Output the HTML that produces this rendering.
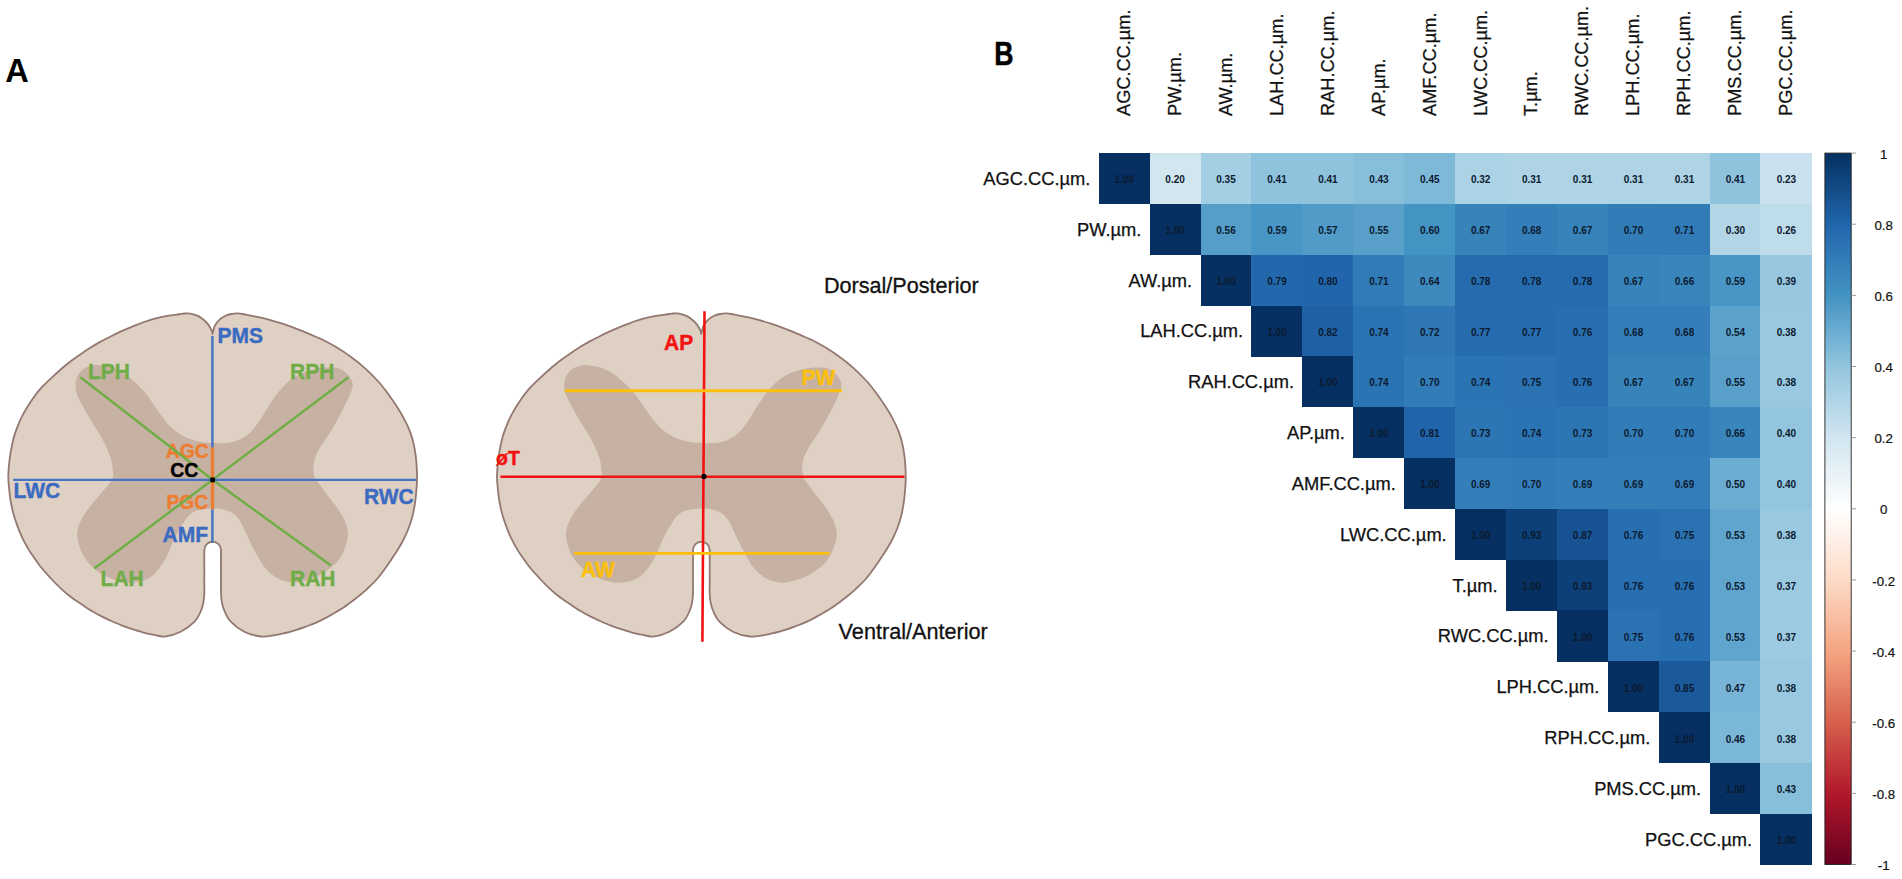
<!DOCTYPE html>
<html><head><meta charset="utf-8"><title>Figure</title>
<style>
html,body{margin:0;padding:0;background:#fff;}
body{width:1902px;height:879px;overflow:hidden;}
svg{display:block;font-family:"Liberation Sans",sans-serif;}
.lb{font-weight:bold;font-size:21px;}
.num text{font-weight:bold;font-size:10px;text-anchor:middle;fill:#0c1a30;}
.rl text{font-size:18.3px;text-anchor:end;fill:#111;stroke:#111;stroke-width:0.25px;}
.cl text{font-size:18.2px;fill:#111;stroke:#111;stroke-width:0.25px;}
.tl text{font-size:13.3px;text-anchor:middle;fill:#111;stroke:#111;stroke-width:0.2px;}
</style></head><body>
<svg width="1902" height="879" viewBox="0 0 1902 879">
<defs>
<g id="cord">
<path d="M212.5 333.9C212.7 333.2 213.2 330.9 213.6 329.5C214.0 328.1 214.0 327.1 215.0 325.5C216.0 323.9 217.8 321.3 219.6 319.6C221.4 317.9 223.8 316.5 225.9 315.5C228.0 314.5 230.3 314.2 232.3 313.8C234.3 313.4 235.5 313.3 237.8 313.4C240.1 313.5 243.0 314.1 246.0 314.6C249.0 315.1 252.2 315.8 256.0 316.6C259.8 317.4 264.4 318.4 268.8 319.6C273.2 320.8 277.8 322.2 282.4 323.7C286.9 325.2 291.6 326.9 296.1 328.7C300.7 330.4 305.1 332.3 309.7 334.2C314.3 336.1 319.1 337.9 323.7 340.2C328.3 342.5 332.8 345.0 337.3 347.8C341.9 350.6 346.4 353.6 351.0 356.9C355.6 360.2 360.1 363.7 364.6 367.8C369.2 371.9 374.4 377.2 378.3 381.5C382.2 385.8 384.8 389.4 388.0 393.7C391.2 398.0 394.6 403.0 397.3 407.3C400.1 411.6 402.4 415.5 404.5 419.6C406.6 423.7 408.6 427.8 410.1 431.9C411.6 436.0 412.8 440.0 413.7 444.1C414.6 448.2 415.3 452.3 415.8 456.4C416.3 460.5 416.6 464.8 416.8 468.7C417.0 472.6 417.1 476.7 417.0 480.0C416.9 483.3 416.8 485.0 416.5 488.7C416.2 492.4 415.8 497.8 415.1 502.3C414.4 506.9 413.6 511.6 412.5 516.0C411.4 520.4 410.1 524.3 408.5 528.5C406.9 532.7 404.9 537.0 402.8 541.0C400.7 545.0 398.5 548.5 396.0 552.4C393.5 556.3 391.1 560.1 388.0 564.5C384.9 568.9 381.0 574.5 377.5 578.5C374.0 582.5 370.6 585.6 367.2 588.8C363.8 592.0 360.4 594.8 357.0 597.5C353.6 600.2 350.2 602.8 346.8 605.2C343.4 607.6 339.9 609.7 336.5 611.8C333.1 613.9 329.7 615.8 326.3 617.6C322.9 619.4 319.5 621.1 316.1 622.6C312.7 624.1 309.2 625.3 305.8 626.6C302.4 627.9 299.0 629.1 295.6 630.2C292.2 631.3 288.8 632.2 285.4 633.0C282.0 633.8 279.2 634.5 275.1 635.1C271.1 635.7 266.2 637.1 261.1 636.5C256.0 635.9 249.3 634.2 244.2 631.7C239.1 629.2 233.8 624.8 230.5 621.4C227.2 618.0 226.0 614.3 224.6 611.2C223.2 608.1 222.6 605.9 222.0 603.0C221.4 600.1 221.2 597.3 221.0 593.8C220.8 590.3 221.0 586.0 221.0 582.0C221.0 578.0 221.0 572.0 221.0 570.0L221 550.1A8.35 8.35 0 0 0 204.3 550.1L204.3 570C204.3 572.0 204.3 578.0 204.3 582.0C204.3 586.0 204.5 590.3 204.3 593.8C204.1 597.3 203.9 600.1 203.3 603.0C202.7 605.9 202.2 608.1 200.8 611.2C199.4 614.3 198.2 618.0 194.8 621.4C191.5 624.8 185.8 629.2 180.7 631.7C175.6 634.2 169.2 636.1 164.5 636.6C159.8 637.1 156.5 635.3 152.8 634.6C149.2 633.9 146.0 633.2 142.6 632.3C139.2 631.4 135.8 630.3 132.4 629.2C129.0 628.1 125.5 626.9 122.1 625.6C118.7 624.3 115.3 622.8 111.9 621.3C108.5 619.8 105.0 618.1 101.6 616.4C98.2 614.6 94.8 612.8 91.4 610.8C88.0 608.8 84.6 606.4 81.2 604.1C77.8 601.8 74.3 599.6 70.9 597.0C67.5 594.4 64.1 591.5 60.7 588.3C57.3 585.1 53.9 581.7 50.5 578.0C47.1 574.3 43.2 570.1 40.2 566.3C37.2 562.5 34.2 557.7 32.3 555.0C30.4 552.3 30.7 553.0 29.0 550.1C27.3 547.2 24.2 541.8 22.2 537.6C20.2 533.4 18.6 529.3 17.1 525.1C15.6 520.9 14.2 516.7 13.1 512.5C12.0 508.3 11.2 504.4 10.5 500.0C9.8 495.6 9.3 490.3 8.9 486.4C8.5 482.5 8.3 480.2 8.3 476.5C8.3 472.8 8.7 468.1 9.1 463.9C9.5 459.7 10.1 455.6 10.8 451.4C11.5 447.2 12.3 443.1 13.4 438.9C14.5 434.7 16.0 430.6 17.6 426.4C19.2 422.2 21.0 418.1 23.3 413.9C25.6 409.7 28.5 405.0 31.2 401.0C33.9 397.0 36.2 393.6 39.5 389.8C42.8 386.0 47.4 381.7 51.0 378.3C54.6 374.9 57.7 372.1 61.0 369.2C64.3 366.3 67.7 363.6 71.0 361.0C74.3 358.4 77.7 356.2 81.0 353.9C84.3 351.6 87.7 349.4 91.0 347.3C94.3 345.2 97.8 343.2 101.1 341.4C104.4 339.5 107.8 337.9 111.1 336.2C114.4 334.5 117.8 332.9 121.1 331.4C124.4 329.9 127.9 328.4 131.1 327.1C134.2 325.8 137.6 324.5 140.0 323.6C142.4 322.7 142.9 322.4 145.5 321.5C148.1 320.6 152.3 319.3 155.7 318.4C159.1 317.5 162.6 316.7 166.0 316.1C169.4 315.5 173.3 315.1 176.2 314.7C179.0 314.3 181.2 313.9 183.1 313.7C185.0 313.5 186.1 313.2 187.8 313.3C189.5 313.4 191.5 313.8 193.3 314.3C195.1 314.8 197.1 315.5 198.8 316.4C200.5 317.3 202.1 318.6 203.6 319.8C205.1 321.1 206.6 322.5 207.7 323.9C208.8 325.3 209.6 326.5 210.4 328.0C211.2 329.5 212.1 331.8 212.4 332.8C212.8 333.8 212.5 333.7 212.5 333.9Z" fill="#dfd0c4" stroke="#927870" stroke-width="1.8" stroke-linejoin="round"/>
<path d="M212.6 443.0C218.0 443.2 224.9 443.9 230.7 442.6C236.4 441.3 242.3 438.8 247.1 435.2C251.9 431.6 255.6 426.0 259.4 420.9C263.1 415.8 265.9 410.0 269.6 404.5C273.4 399.0 277.5 392.8 281.9 388.0C286.3 383.2 290.5 379.2 296.0 376.0C301.5 372.8 308.8 370.4 315.0 369.0C321.2 367.6 328.3 367.3 333.0 367.6C337.7 367.9 340.5 368.9 343.4 370.7C346.3 372.5 349.0 375.6 350.5 378.5C352.0 381.4 353.5 383.0 352.3 388.0C351.1 393.0 346.9 401.4 343.4 408.6C339.8 415.8 335.1 424.3 331.0 431.1C326.9 437.9 321.7 444.0 318.8 449.5C315.9 455.0 314.4 459.1 313.7 463.9C313.0 468.6 314.1 475.1 314.7 478.0C315.2 480.9 314.9 478.2 317.0 481.0C319.1 483.8 323.3 489.6 327.0 494.6C330.7 499.6 336.1 505.9 339.3 511.0C342.6 516.1 345.1 520.6 346.5 525.3C347.9 530.0 348.4 533.9 347.5 539.0C346.6 544.1 344.0 551.2 341.3 556.0C338.6 560.8 335.5 563.9 331.1 567.5C326.7 571.1 320.2 575.1 315.0 577.5C309.8 579.9 304.1 581.2 300.0 582.0C295.9 582.8 293.8 582.8 290.1 582.2C286.4 581.6 281.9 580.9 277.8 578.6C273.7 576.3 269.2 572.8 265.5 568.3C261.8 563.8 258.4 557.4 255.3 551.9C252.2 546.4 249.8 541.0 247.1 535.5C244.4 530.0 242.0 523.3 238.9 519.2C235.8 515.1 233.1 512.8 228.7 511.0C224.3 509.2 218.3 508.4 212.6 508.5C206.9 508.6 199.3 509.4 194.6 511.5C189.9 513.6 187.7 516.5 184.3 521.2C180.9 525.9 177.2 533.5 174.1 539.6C171.0 545.7 169.0 552.5 165.9 558.0C162.8 563.5 159.4 568.6 155.7 572.4C151.9 576.2 148.5 578.9 143.4 580.6C138.3 582.3 131.8 583.5 125.0 582.5C118.2 581.5 108.6 577.9 102.4 574.5C96.2 571.1 91.8 566.7 88.0 562.2C84.2 557.8 81.7 552.9 79.9 547.8C78.1 542.7 76.7 537.0 77.4 531.5C78.1 526.0 80.5 520.8 84.0 515.0C87.5 509.2 93.7 502.4 98.3 496.6C102.9 490.8 109.2 484.4 111.6 480.0C114.0 475.6 112.9 473.7 112.7 470.0C112.5 466.3 112.3 462.8 110.6 457.7C108.9 452.6 105.8 445.8 102.4 439.3C99.0 432.8 94.1 426.0 90.0 418.8C85.9 411.6 80.2 401.8 77.8 396.3C75.4 390.8 75.6 389.3 75.5 386.0C75.4 382.7 76.1 379.3 77.4 376.5C78.7 373.7 81.0 370.9 83.3 369.2C85.6 367.4 88.5 366.7 91.0 366.0C93.5 365.3 95.0 364.9 98.5 365.2C102.0 365.5 107.7 366.2 112.0 367.6C116.3 369.0 120.5 371.3 124.3 373.7C128.1 376.1 131.1 378.8 134.5 381.9C137.9 385.0 141.4 388.1 144.8 392.2C148.2 396.3 151.6 401.7 155.0 406.5C158.4 411.3 161.9 416.8 165.3 420.9C168.7 425.0 172.1 428.4 175.5 431.1C178.9 433.8 181.9 435.5 185.7 437.2C189.4 438.9 193.5 440.3 198.0 441.3C202.5 442.3 207.2 442.8 212.6 443.0Z" fill="#c6b1a3"/>
</g>
<linearGradient id="cb" x1="0" y1="0" x2="0" y2="1"><stop offset="0.0%" stop-color="#053061"/><stop offset="10.0%" stop-color="#2166AC"/><stop offset="20.0%" stop-color="#4393C3"/><stop offset="30.0%" stop-color="#92C5DE"/><stop offset="40.0%" stop-color="#D1E5F0"/><stop offset="50.0%" stop-color="#FFFFFF"/><stop offset="60.0%" stop-color="#FDDBC7"/><stop offset="70.0%" stop-color="#F4A582"/><stop offset="80.0%" stop-color="#D6604D"/><stop offset="90.0%" stop-color="#B2182B"/><stop offset="100.0%" stop-color="#67001F"/></linearGradient>
</defs>
<rect width="1902" height="879" fill="#fff"/>
<text x="5.3" y="81.6" font-weight="bold" font-size="32.6">A</text>
<text x="994.3" y="64.6" font-weight="bold" font-size="33.6" textLength="19.3" lengthAdjust="spacingAndGlyphs" stroke="#000" stroke-width="0.5">B</text>

<!-- panel A left cord -->
<use href="#cord"/>
<g class="lb">
<text transform="translate(165.8 458.3) scale(1 1.035)" fill="#ed7d31" stroke="#ed7d31" stroke-width="0.4" font-size="19.3">AGC</text>
<text transform="translate(166.4 509.1) scale(1 1.035)" fill="#ed7d31" stroke="#ed7d31" stroke-width="0.4" font-size="19.3">PGC</text>
</g>
<g stroke="#6fae45" stroke-width="2.4" stroke-linecap="butt">
<line x1="80.5" y1="377.2" x2="212.6" y2="479.8"/>
<line x1="348.5" y1="377.3" x2="212.6" y2="479.8"/>
<line x1="94.3" y1="568.5" x2="212.6" y2="479.8"/>
<line x1="331" y1="565.5" x2="212.6" y2="479.8"/>
</g>
<line x1="212.5" y1="447.3" x2="212.5" y2="509.3" stroke="#ed7d31" stroke-width="3.3"/>
<line x1="13.3" y1="479.9" x2="416.3" y2="479.9" stroke="#4472c4" stroke-width="2.4"/>
<line x1="212.4" y1="336" x2="212.4" y2="447.3" stroke="#4472c4" stroke-width="2.4"/>
<line x1="212.4" y1="509.3" x2="212.4" y2="542.6" stroke="#4472c4" stroke-width="2.4"/>
<circle cx="212.6" cy="479.8" r="2.6" fill="#000"/>
<g class="lb">
<text transform="translate(217.6 343.2) scale(1 1.035)" fill="#3b6ac1" stroke="#3b6ac1" stroke-width="0.4" font-size="21.0">PMS</text>
<text transform="translate(88.0 379.0) scale(1 1.035)" fill="#70ad47" stroke="#70ad47" stroke-width="0.4" font-size="21.0">LPH</text>
<text transform="translate(290.0 379.0) scale(1 1.035)" fill="#70ad47" stroke="#70ad47" stroke-width="0.4" font-size="21.0">RPH</text>
<text transform="translate(170.3 477.1) scale(1 1.030)" fill="#000" stroke="#000" stroke-width="0.4" font-size="19.5">CC</text>
<text transform="translate(13.6 497.8) scale(1 1.035)" fill="#3b6ac1" stroke="#3b6ac1" stroke-width="0.4" font-size="21.0">LWC</text>
<text transform="translate(364.0 504.1) scale(1 1.035)" fill="#3b6ac1" stroke="#3b6ac1" stroke-width="0.4" font-size="21.0">RWC</text>
<text transform="translate(162.5 542.2) scale(1 1.035)" fill="#3b6ac1" stroke="#3b6ac1" stroke-width="0.4" font-size="21.0">AMF</text>
<text transform="translate(100.6 586.3) scale(1 1.035)" fill="#70ad47" stroke="#70ad47" stroke-width="0.4" font-size="21.0">LAH</text>
<text transform="translate(290.0 586.3) scale(1 1.035)" fill="#70ad47" stroke="#70ad47" stroke-width="0.4" font-size="21.0">RAH</text>
</g>

<!-- panel A right cord -->
<use href="#cord" transform="translate(488.7 0)"/>
<line x1="704.5" y1="311.3" x2="702.4" y2="641.7" stroke="#f21212" stroke-width="2.6"/>
<line x1="500.5" y1="476.7" x2="904.5" y2="476.7" stroke="#f21212" stroke-width="2.6"/>
<line x1="564.8" y1="390.7" x2="842" y2="390.7" stroke="#fcc00c" stroke-width="2.9"/>
<line x1="574" y1="553.4" x2="829.8" y2="553.4" stroke="#fcc00c" stroke-width="2.9"/>
<circle cx="704" cy="476.4" r="2.6" fill="#000"/>
<g class="lb">
<text transform="translate(664.0 349.7) scale(1 1.035)" fill="#f21212" stroke="#f21212" stroke-width="0.4" font-size="21.0">AP</text>
<text transform="translate(801.6 384.6) scale(1 1.035)" fill="#fcc00c" stroke="#fcc00c" stroke-width="0.4" font-size="21.0">PW</text>
<text transform="translate(496.0 465.0) scale(1 1.035)" fill="#f21212" stroke="#f21212" stroke-width="0.4" font-size="19.5">øT</text>
<text transform="translate(581.0 576.7) scale(1 1.035)" fill="#fcc00c" stroke="#fcc00c" stroke-width="0.4" font-size="21.0">AW</text>
</g>
<text transform="translate(824 293.3) scale(1 1.03)" font-size="21.6" fill="#111" stroke="#111" stroke-width="0.3">Dorsal/Posterior</text>
<text transform="translate(838.6 638.5) scale(1 1.04)" font-size="21.65" fill="#111" stroke="#111" stroke-width="0.3">Ventral/Anterior</text>

<!-- panel B -->
<g shape-rendering="crispEdges"><rect x="1098.70" y="153.10" width="51.20" height="51.11" fill="#053061"/><rect x="1149.60" y="153.10" width="51.20" height="51.11" fill="#d2e6f0"/><rect x="1200.50" y="153.10" width="51.20" height="51.11" fill="#a3cee3"/><rect x="1251.40" y="153.10" width="51.20" height="51.11" fill="#8fc3dd"/><rect x="1302.30" y="153.10" width="51.20" height="51.11" fill="#8fc3dd"/><rect x="1353.20" y="153.10" width="51.20" height="51.11" fill="#87beda"/><rect x="1404.10" y="153.10" width="51.20" height="51.11" fill="#7fb9d8"/><rect x="1455.00" y="153.10" width="51.20" height="51.11" fill="#acd2e6"/><rect x="1505.90" y="153.10" width="51.20" height="51.11" fill="#afd4e6"/><rect x="1556.80" y="153.10" width="51.20" height="51.11" fill="#afd4e6"/><rect x="1607.70" y="153.10" width="51.20" height="51.11" fill="#afd4e6"/><rect x="1658.60" y="153.10" width="51.20" height="51.11" fill="#afd4e6"/><rect x="1709.50" y="153.10" width="51.20" height="51.11" fill="#8fc3dd"/><rect x="1760.40" y="153.10" width="51.20" height="51.11" fill="#c9e1ee"/><rect x="1149.60" y="203.91" width="51.20" height="51.11" fill="#053061"/><rect x="1200.50" y="203.91" width="51.20" height="51.11" fill="#549ec9"/><rect x="1251.40" y="203.91" width="51.20" height="51.11" fill="#4896c5"/><rect x="1302.30" y="203.91" width="51.20" height="51.11" fill="#509bc7"/><rect x="1353.20" y="203.91" width="51.20" height="51.11" fill="#58a0ca"/><rect x="1404.10" y="203.91" width="51.20" height="51.11" fill="#4494c3"/><rect x="1455.00" y="203.91" width="51.20" height="51.11" fill="#3784bb"/><rect x="1505.90" y="203.91" width="51.20" height="51.11" fill="#347fb9"/><rect x="1556.80" y="203.91" width="51.20" height="51.11" fill="#3784bb"/><rect x="1607.70" y="203.91" width="51.20" height="51.11" fill="#327db8"/><rect x="1658.60" y="203.91" width="51.20" height="51.11" fill="#317bb7"/><rect x="1709.50" y="203.91" width="51.20" height="51.11" fill="#b3d6e7"/><rect x="1760.40" y="203.91" width="51.20" height="51.11" fill="#bfdceb"/><rect x="1200.50" y="254.73" width="51.20" height="51.11" fill="#053061"/><rect x="1251.40" y="254.73" width="51.20" height="51.11" fill="#2368ad"/><rect x="1302.30" y="254.73" width="51.20" height="51.11" fill="#2166ac"/><rect x="1353.20" y="254.73" width="51.20" height="51.11" fill="#317bb7"/><rect x="1404.10" y="254.73" width="51.20" height="51.11" fill="#3d8abf"/><rect x="1455.00" y="254.73" width="51.20" height="51.11" fill="#256bae"/><rect x="1505.90" y="254.73" width="51.20" height="51.11" fill="#256bae"/><rect x="1556.80" y="254.73" width="51.20" height="51.11" fill="#256bae"/><rect x="1607.70" y="254.73" width="51.20" height="51.11" fill="#3784bb"/><rect x="1658.60" y="254.73" width="51.20" height="51.11" fill="#3986bc"/><rect x="1709.50" y="254.73" width="51.20" height="51.11" fill="#4896c5"/><rect x="1760.40" y="254.73" width="51.20" height="51.11" fill="#96c7df"/><rect x="1251.40" y="305.54" width="51.20" height="51.11" fill="#053061"/><rect x="1302.30" y="305.54" width="51.20" height="51.11" fill="#1e61a5"/><rect x="1353.20" y="305.54" width="51.20" height="51.11" fill="#2b74b3"/><rect x="1404.10" y="305.54" width="51.20" height="51.11" fill="#2f78b5"/><rect x="1455.00" y="305.54" width="51.20" height="51.11" fill="#266db0"/><rect x="1505.90" y="305.54" width="51.20" height="51.11" fill="#266db0"/><rect x="1556.80" y="305.54" width="51.20" height="51.11" fill="#286fb1"/><rect x="1607.70" y="305.54" width="51.20" height="51.11" fill="#347fb9"/><rect x="1658.60" y="305.54" width="51.20" height="51.11" fill="#347fb9"/><rect x="1709.50" y="305.54" width="51.20" height="51.11" fill="#5ca3cb"/><rect x="1760.40" y="305.54" width="51.20" height="51.11" fill="#99c9e0"/><rect x="1302.30" y="356.36" width="51.20" height="51.11" fill="#053061"/><rect x="1353.20" y="356.36" width="51.20" height="51.11" fill="#2b74b3"/><rect x="1404.10" y="356.36" width="51.20" height="51.11" fill="#327db8"/><rect x="1455.00" y="356.36" width="51.20" height="51.11" fill="#2b74b3"/><rect x="1505.90" y="356.36" width="51.20" height="51.11" fill="#2a72b2"/><rect x="1556.80" y="356.36" width="51.20" height="51.11" fill="#286fb1"/><rect x="1607.70" y="356.36" width="51.20" height="51.11" fill="#3784bb"/><rect x="1658.60" y="356.36" width="51.20" height="51.11" fill="#3784bb"/><rect x="1709.50" y="356.36" width="51.20" height="51.11" fill="#58a0ca"/><rect x="1760.40" y="356.36" width="51.20" height="51.11" fill="#99c9e0"/><rect x="1353.20" y="407.17" width="51.20" height="51.11" fill="#053061"/><rect x="1404.10" y="407.17" width="51.20" height="51.11" fill="#2064a9"/><rect x="1455.00" y="407.17" width="51.20" height="51.11" fill="#2d76b4"/><rect x="1505.90" y="407.17" width="51.20" height="51.11" fill="#2b74b3"/><rect x="1556.80" y="407.17" width="51.20" height="51.11" fill="#2d76b4"/><rect x="1607.70" y="407.17" width="51.20" height="51.11" fill="#327db8"/><rect x="1658.60" y="407.17" width="51.20" height="51.11" fill="#327db8"/><rect x="1709.50" y="407.17" width="51.20" height="51.11" fill="#3986bc"/><rect x="1760.40" y="407.17" width="51.20" height="51.11" fill="#93c5de"/><rect x="1404.10" y="457.99" width="51.20" height="51.11" fill="#053061"/><rect x="1455.00" y="457.99" width="51.20" height="51.11" fill="#347fb9"/><rect x="1505.90" y="457.99" width="51.20" height="51.11" fill="#327db8"/><rect x="1556.80" y="457.99" width="51.20" height="51.11" fill="#347fb9"/><rect x="1607.70" y="457.99" width="51.20" height="51.11" fill="#347fb9"/><rect x="1658.60" y="457.99" width="51.20" height="51.11" fill="#347fb9"/><rect x="1709.50" y="457.99" width="51.20" height="51.11" fill="#6badd1"/><rect x="1760.40" y="457.99" width="51.20" height="51.11" fill="#93c5de"/><rect x="1455.00" y="508.80" width="51.20" height="51.11" fill="#053061"/><rect x="1505.90" y="508.80" width="51.20" height="51.11" fill="#0d4078"/><rect x="1556.80" y="508.80" width="51.20" height="51.11" fill="#175392"/><rect x="1607.70" y="508.80" width="51.20" height="51.11" fill="#286fb1"/><rect x="1658.60" y="508.80" width="51.20" height="51.11" fill="#2a72b2"/><rect x="1709.50" y="508.80" width="51.20" height="51.11" fill="#60a5cd"/><rect x="1760.40" y="508.80" width="51.20" height="51.11" fill="#99c9e0"/><rect x="1505.90" y="559.61" width="51.20" height="51.11" fill="#053061"/><rect x="1556.80" y="559.61" width="51.20" height="51.11" fill="#0d4078"/><rect x="1607.70" y="559.61" width="51.20" height="51.11" fill="#286fb1"/><rect x="1658.60" y="559.61" width="51.20" height="51.11" fill="#286fb1"/><rect x="1709.50" y="559.61" width="51.20" height="51.11" fill="#60a5cd"/><rect x="1760.40" y="559.61" width="51.20" height="51.11" fill="#9ccae1"/><rect x="1556.80" y="610.43" width="51.20" height="51.11" fill="#053061"/><rect x="1607.70" y="610.43" width="51.20" height="51.11" fill="#2a72b2"/><rect x="1658.60" y="610.43" width="51.20" height="51.11" fill="#286fb1"/><rect x="1709.50" y="610.43" width="51.20" height="51.11" fill="#60a5cd"/><rect x="1760.40" y="610.43" width="51.20" height="51.11" fill="#9ccae1"/><rect x="1607.70" y="661.24" width="51.20" height="51.11" fill="#053061"/><rect x="1658.60" y="661.24" width="51.20" height="51.11" fill="#1a599a"/><rect x="1709.50" y="661.24" width="51.20" height="51.11" fill="#77b4d5"/><rect x="1760.40" y="661.24" width="51.20" height="51.11" fill="#99c9e0"/><rect x="1658.60" y="712.06" width="51.20" height="51.11" fill="#053061"/><rect x="1709.50" y="712.06" width="51.20" height="51.11" fill="#7bb7d6"/><rect x="1760.40" y="712.06" width="51.20" height="51.11" fill="#99c9e0"/><rect x="1709.50" y="762.87" width="51.20" height="51.11" fill="#053061"/><rect x="1760.40" y="762.87" width="51.20" height="51.11" fill="#87beda"/><rect x="1760.40" y="813.69" width="51.20" height="51.11" fill="#053061"/></g>
<g class="num"><text x="1124.2" y="182.8">1.00</text><text x="1175.1" y="182.8">0.20</text><text x="1226.0" y="182.8">0.35</text><text x="1277.0" y="182.8">0.41</text><text x="1327.9" y="182.8">0.41</text><text x="1378.9" y="182.8">0.43</text><text x="1429.8" y="182.8">0.45</text><text x="1480.7" y="182.8">0.32</text><text x="1531.7" y="182.8">0.31</text><text x="1582.6" y="182.8">0.31</text><text x="1633.5" y="182.8">0.31</text><text x="1684.5" y="182.8">0.31</text><text x="1735.4" y="182.8">0.41</text><text x="1786.4" y="182.8">0.23</text><text x="1175.1" y="233.7">1.00</text><text x="1226.0" y="233.7">0.56</text><text x="1277.0" y="233.7">0.59</text><text x="1327.9" y="233.7">0.57</text><text x="1378.9" y="233.7">0.55</text><text x="1429.8" y="233.7">0.60</text><text x="1480.7" y="233.7">0.67</text><text x="1531.7" y="233.7">0.68</text><text x="1582.6" y="233.7">0.67</text><text x="1633.5" y="233.7">0.70</text><text x="1684.5" y="233.7">0.71</text><text x="1735.4" y="233.7">0.30</text><text x="1786.4" y="233.7">0.26</text><text x="1226.0" y="284.6">1.00</text><text x="1277.0" y="284.6">0.79</text><text x="1327.9" y="284.6">0.80</text><text x="1378.9" y="284.6">0.71</text><text x="1429.8" y="284.6">0.64</text><text x="1480.7" y="284.6">0.78</text><text x="1531.7" y="284.6">0.78</text><text x="1582.6" y="284.6">0.78</text><text x="1633.5" y="284.6">0.67</text><text x="1684.5" y="284.6">0.66</text><text x="1735.4" y="284.6">0.59</text><text x="1786.4" y="284.6">0.39</text><text x="1277.0" y="335.5">1.00</text><text x="1327.9" y="335.5">0.82</text><text x="1378.9" y="335.5">0.74</text><text x="1429.8" y="335.5">0.72</text><text x="1480.7" y="335.5">0.77</text><text x="1531.7" y="335.5">0.77</text><text x="1582.6" y="335.5">0.76</text><text x="1633.5" y="335.5">0.68</text><text x="1684.5" y="335.5">0.68</text><text x="1735.4" y="335.5">0.54</text><text x="1786.4" y="335.5">0.38</text><text x="1327.9" y="386.3">1.00</text><text x="1378.9" y="386.3">0.74</text><text x="1429.8" y="386.3">0.70</text><text x="1480.7" y="386.3">0.74</text><text x="1531.7" y="386.3">0.75</text><text x="1582.6" y="386.3">0.76</text><text x="1633.5" y="386.3">0.67</text><text x="1684.5" y="386.3">0.67</text><text x="1735.4" y="386.3">0.55</text><text x="1786.4" y="386.3">0.38</text><text x="1378.9" y="437.2">1.00</text><text x="1429.8" y="437.2">0.81</text><text x="1480.7" y="437.2">0.73</text><text x="1531.7" y="437.2">0.74</text><text x="1582.6" y="437.2">0.73</text><text x="1633.5" y="437.2">0.70</text><text x="1684.5" y="437.2">0.70</text><text x="1735.4" y="437.2">0.66</text><text x="1786.4" y="437.2">0.40</text><text x="1429.8" y="488.1">1.00</text><text x="1480.7" y="488.1">0.69</text><text x="1531.7" y="488.1">0.70</text><text x="1582.6" y="488.1">0.69</text><text x="1633.5" y="488.1">0.69</text><text x="1684.5" y="488.1">0.69</text><text x="1735.4" y="488.1">0.50</text><text x="1786.4" y="488.1">0.40</text><text x="1480.7" y="539.0">1.00</text><text x="1531.7" y="539.0">0.93</text><text x="1582.6" y="539.0">0.87</text><text x="1633.5" y="539.0">0.76</text><text x="1684.5" y="539.0">0.75</text><text x="1735.4" y="539.0">0.53</text><text x="1786.4" y="539.0">0.38</text><text x="1531.7" y="589.9">1.00</text><text x="1582.6" y="589.9">0.93</text><text x="1633.5" y="589.9">0.76</text><text x="1684.5" y="589.9">0.76</text><text x="1735.4" y="589.9">0.53</text><text x="1786.4" y="589.9">0.37</text><text x="1582.6" y="640.8">1.00</text><text x="1633.5" y="640.8">0.75</text><text x="1684.5" y="640.8">0.76</text><text x="1735.4" y="640.8">0.53</text><text x="1786.4" y="640.8">0.37</text><text x="1633.5" y="691.6">1.00</text><text x="1684.5" y="691.6">0.85</text><text x="1735.4" y="691.6">0.47</text><text x="1786.4" y="691.6">0.38</text><text x="1684.5" y="742.5">1.00</text><text x="1735.4" y="742.5">0.46</text><text x="1786.4" y="742.5">0.38</text><text x="1735.4" y="793.4">1.00</text><text x="1786.4" y="793.4">0.43</text><text x="1786.4" y="844.3">1.00</text></g>
<g class="rl"><text x="1090.4" y="185.0">AGC.CC.µm.</text><text x="1141.3" y="235.8">PW.µm.</text><text x="1192.2" y="286.6">AW.µm.</text><text x="1243.1" y="337.4">LAH.CC.µm.</text><text x="1294.0" y="388.3">RAH.CC.µm.</text><text x="1344.9" y="439.1">AP.µm.</text><text x="1395.8" y="489.9">AMF.CC.µm.</text><text x="1446.7" y="540.7">LWC.CC.µm.</text><text x="1497.6" y="591.5">T.µm.</text><text x="1548.5" y="642.3">RWC.CC.µm.</text><text x="1599.4" y="693.1">LPH.CC.µm.</text><text x="1650.3" y="744.0">RPH.CC.µm.</text><text x="1701.2" y="794.8">PMS.CC.µm.</text><text x="1752.1" y="845.6">PGC.CC.µm.</text></g>
<g class="cl"><text transform="translate(1130.2 116) rotate(-90)">AGC.CC.µm.</text><text transform="translate(1181.1 116) rotate(-90)">PW.µm.</text><text transform="translate(1232.0 116) rotate(-90)">AW.µm.</text><text transform="translate(1282.9 116) rotate(-90)">LAH.CC.µm.</text><text transform="translate(1333.8 116) rotate(-90)">RAH.CC.µm.</text><text transform="translate(1384.7 116) rotate(-90)">AP.µm.</text><text transform="translate(1435.5 116) rotate(-90)">AMF.CC.µm.</text><text transform="translate(1486.5 116) rotate(-90)">LWC.CC.µm.</text><text transform="translate(1537.4 116) rotate(-90)">T.µm.</text><text transform="translate(1588.2 116) rotate(-90)">RWC.CC.µm.</text><text transform="translate(1639.1 116) rotate(-90)">LPH.CC.µm.</text><text transform="translate(1690.0 116) rotate(-90)">RPH.CC.µm.</text><text transform="translate(1741.0 116) rotate(-90)">PMS.CC.µm.</text><text transform="translate(1791.9 116) rotate(-90)">PGC.CC.µm.</text></g>
<rect x="1824.9" y="153.1" width="26.3" height="711.4" fill="url(#cb)" stroke="#222" stroke-width="0.9"/>
<g stroke="#999" stroke-width="1"><line x1="1851.2" y1="153.1" x2="1856" y2="153.1"/><line x1="1851.2" y1="224.2" x2="1856" y2="224.2"/><line x1="1851.2" y1="295.4" x2="1856" y2="295.4"/><line x1="1851.2" y1="366.5" x2="1856" y2="366.5"/><line x1="1851.2" y1="437.7" x2="1856" y2="437.7"/><line x1="1851.2" y1="508.8" x2="1856" y2="508.8"/><line x1="1851.2" y1="579.9" x2="1856" y2="579.9"/><line x1="1851.2" y1="651.1" x2="1856" y2="651.1"/><line x1="1851.2" y1="722.2" x2="1856" y2="722.2"/><line x1="1851.2" y1="793.4" x2="1856" y2="793.4"/><line x1="1851.2" y1="864.5" x2="1856" y2="864.5"/></g>
<g class="tl"><text x="1883.7" y="158.7">1</text><text x="1883.7" y="229.8">0.8</text><text x="1883.7" y="301.0">0.6</text><text x="1883.7" y="372.1">0.4</text><text x="1883.7" y="443.3">0.2</text><text x="1883.7" y="514.4">0</text><text x="1883.7" y="585.5">-0.2</text><text x="1883.7" y="656.7">-0.4</text><text x="1883.7" y="727.8">-0.6</text><text x="1883.7" y="799.0">-0.8</text><text x="1883.7" y="870.1">-1</text></g>
</svg>
</body></html>
